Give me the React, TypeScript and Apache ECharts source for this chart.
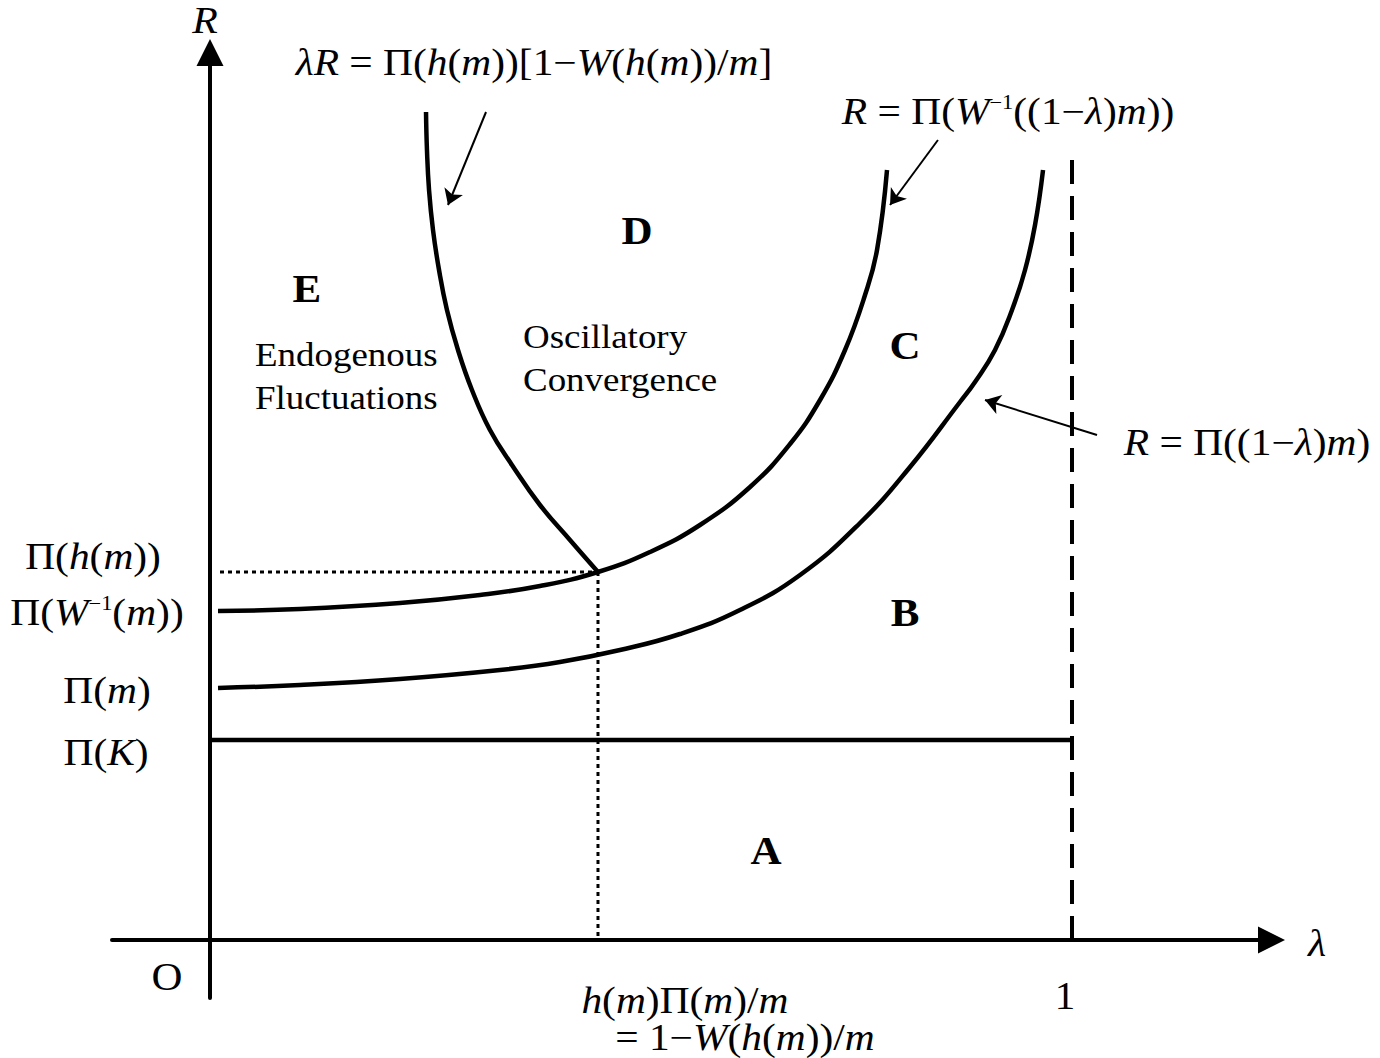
import React, { useEffect, useRef } from "react";
import * as echarts from "echarts";

// Axis ranges (lambda horizontally, R vertically)
const lambdaMin = -0.11369;
const lambdaMax = 1.23144;
const rMin = -0.58;
const rMax = 8.875;

// Reference levels
const piK = 2.0;
const piHm = 3.68;
const lambdaStar = 0.4501;
const dashTopR = 7.88;

// Curve R = Π(W^-1((1-λ)m))
const wInvLambda = [0.0093, 0.1044, 0.2204, 0.3132, 0.3828, 0.4501, 0.5104, 0.5684, 0.6265, 0.6729, 0.7077, 0.7367, 0.7599, 0.7738, 0.7854];
const wInvR = [3.29, 3.31, 3.37, 3.45, 3.54, 3.68, 3.88, 4.15, 4.53, 4.96, 5.4, 5.9, 6.45, 6.9, 7.7];

// Curve R = Π((1-λ)m)
const piLambda = [0.0093, 0.1044, 0.2204, 0.3364, 0.406, 0.4756, 0.5452, 0.6148, 0.6845, 0.7541, 0.8121, 0.8701, 0.8875, 0.9107, 0.9304, 0.9455, 0.9571, 0.9664];
const piR = [2.52, 2.55, 2.61, 2.7, 2.78, 2.9, 3.06, 3.3, 3.65, 4.17, 4.73, 5.38, 5.58, 5.9, 6.3, 6.7, 7.15, 7.7];

// Curve λR = Π(h(m))[1-W(h(m))/m]
const lrLambda = [0.2506, 0.2517, 0.2541, 0.2587, 0.2657, 0.2749, 0.2877, 0.3039, 0.3248, 0.3503, 0.3828, 0.4176, 0.4501];
const lrR = [8.28, 7.9, 7.5, 7.1, 6.7, 6.3, 5.9, 5.5, 5.1, 4.75, 4.35, 4.0, 3.68];

// Annotation arrows: [fromλ, fromR, toλ, toR]
const arrowLines = [
  [0.3202, 8.28, 0.2761, 7.35],
  [0.8445, 8.0, 0.7889, 7.35],
  [1.029, 5.05, 0.8991, 5.4],
];

const FF = "'Liberation Serif', 'Times New Roman', serif";

type Lab = {
  text: string;
  at: [number, number];
  size: number;
  sx?: number;
  bold?: boolean;
  italic?: boolean;
  align?: "left" | "center";
  lineHeight?: number;
};

const labels: Lab[] = [
  { text: "R", at: [-0.0058, 9.2], size: 38, italic: true, sx: 1.1 },
  { text: "λ", at: [1.2842, -0.03], size: 38, italic: true, sx: 1.1 },
  { text: "O", at: [-0.0499, -0.37], size: 39, sx: 1.1 },
  { text: "1", at: [0.9919, -0.56], size: 39, sx: 1.05 },
  { text: "{i|h}({i|m})Π({i|m})/{i|m}", at: [0.551, -0.6], size: 37, sx: 1.12 },
  { text: "= 1−{i|W}({i|h}({i|m}))/{i|m}", at: [0.6206, -0.97], size: 37, sx: 1.12 },
  { text: "{i|λR} = Π({i|h}({i|m}))[1−{i|W}({i|h}({i|m}))/{i|m}]", at: [0.3759, 8.78], size: 37, sx: 1.12 },
  { text: "{i|R} = Π({i|W}{s|−1}((1−{i|λ}){i|m}))", at: [0.9258, 8.29], size: 37, sx: 1.12 },
  { text: "{i|R} = Π((1−{i|λ}){i|m})", at: [1.203, 4.98], size: 37, sx: 1.12 },
  { text: "Π({i|h}({i|m}))", at: [-0.1357, 3.84], size: 37, sx: 1.12 },
  { text: "Π({i|W}{s|−1}({i|m}))", at: [-0.1311, 3.28], size: 37, sx: 1.12 },
  { text: "Π({i|m})", at: [-0.1195, 2.5], size: 37, sx: 1.12 },
  { text: "Π({i|K})", at: [-0.1206, 1.88], size: 37, sx: 1.12 },
  { text: "E", at: [0.1125, 6.52], size: 41, bold: true, sx: 1.05 },
  { text: "D", at: [0.4954, 7.1], size: 41, bold: true, sx: 1.05 },
  { text: "C", at: [0.8063, 5.95], size: 41, bold: true, sx: 1.05 },
  { text: "B", at: [0.8063, 3.28], size: 41, bold: true, sx: 1.05 },
  { text: "A", at: [0.645, 0.9], size: 41, bold: true, sx: 1.05 },
  { text: "Endogenous\nFluctuations", at: [0.0522, 5.63], size: 33, sx: 1.12, align: "left", lineHeight: 43 },
  { text: "Oscillatory\nConvergence", at: [0.3631, 5.81], size: 33, sx: 1.12, align: "left", lineHeight: 43 },
];

const zip = (a: number[], b: number[]) => a.map((v, i) => [v, b[i]]);

export default function App() {
  const ref = useRef<HTMLDivElement>(null);
  useEffect(() => {
    if (!ref.current) return;
    const chart = echarts.init(ref.current, undefined, { renderer: "svg" });
    const curveStyle = { color: "#000", width: 4.5 };
    const axisCommon = {
      type: "value" as const,
      axisTick: { show: false },
      axisLabel: { show: false },
      splitLine: { show: false },
    };
    const axisLine = {
      show: true,
      onZero: true,
      symbol: ["none", "triangle"],
      symbolSize: [27, 27],
      lineStyle: { color: "#000", width: 4 },
    };
    chart.setOption({
      animation: false,
      backgroundColor: "#fff",
      grid: { left: 112, top: 52.5, width: 1159.5, height: 945.5, containLabel: false },
      xAxis: { ...axisCommon, min: lambdaMin, max: lambdaMax, axisLine },
      yAxis: { ...axisCommon, min: rMin, max: rMax, axisLine },
      series: [
        {
          type: "line",
          data: [[0, piK], [1, piK]],
          showSymbol: false,
          silent: true,
          lineStyle: { color: "#000", width: 4.3 },
        },
        {
          type: "line",
          data: [[1, 0], [1, dashTopR]],
          showSymbol: false,
          silent: true,
          lineStyle: { color: "#000", width: 4, type: [24, 12] },
        },
        {
          type: "line",
          data: [[0.0116, piHm], [lambdaStar, piHm]],
          showSymbol: false,
          silent: true,
          lineStyle: { color: "#000", width: 3, type: [4, 4] },
        },
        {
          type: "line",
          data: [[lambdaStar, piHm], [lambdaStar, 0]],
          showSymbol: false,
          silent: true,
          lineStyle: { color: "#000", width: 3, type: [4, 4] },
        },
        {
          type: "line",
          data: zip(wInvLambda, wInvR),
          showSymbol: false,
          smooth: 0.45,
          silent: true,
          lineStyle: curveStyle,
        },
        {
          type: "line",
          data: zip(piLambda, piR),
          showSymbol: false,
          smooth: 0.45,
          silent: true,
          lineStyle: curveStyle,
        },
        {
          type: "line",
          data: zip(lrLambda, lrR),
          showSymbol: false,
          smooth: 0.45,
          silent: true,
          lineStyle: curveStyle,
        },
        {
          type: "lines",
          coordinateSystem: "cartesian2d",
          silent: true,
          symbol: ["none", "arrow"],
          symbolSize: 15,
          lineStyle: { color: "#000", width: 2, opacity: 1, curveness: 0 },
          data: arrowLines.map((a) => ({ coords: [[a[0], a[1]], [a[2], a[3]]] })),
        },
      ],
    });

    const graphics = labels.map((l) => {
      const p = chart.convertToPixel({ gridIndex: 0 }, l.at) as number[];
      return {
        type: "text",
        x: p[0],
        y: p[1],
        scaleX: l.sx ?? 1,
        silent: true,
        style: {
          text: l.text,
          fontFamily: FF,
          fontSize: l.size,
          fontWeight: l.bold ? "bold" : "normal",
          fontStyle: l.italic ? "italic" : "normal",
          fill: "#000",
          align: l.align ?? "center",
          verticalAlign: "middle",
          lineHeight: l.lineHeight,
          rich: {
            i: { fontFamily: FF, fontSize: l.size, fontStyle: "italic", fill: "#000" },
            s: { fontFamily: FF, fontSize: Math.round(l.size * 0.55), fill: "#000", verticalAlign: "top" },
          },
        },
      };
    });
    chart.setOption({ graphic: graphics });

    return () => chart.dispose();
  }, []);
  return (
    <div
      ref={ref}
      style={{ position: "absolute", left: 0, top: 0, width: 1380, height: 1058, background: "#fff" }}
    />
  );
}
